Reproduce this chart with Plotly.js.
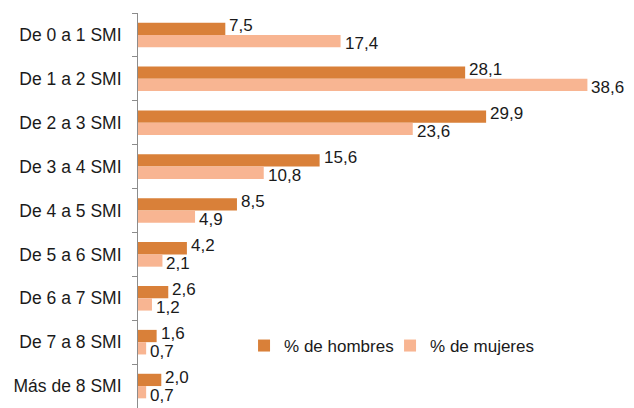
<!DOCTYPE html>
<html>
<head>
<meta charset="utf-8">
<script src="https://cdn.plot.ly/plotly-3.0.1.min.js"></script>
<style>
  body { margin: 0; background: #fff; }
  #chart { width: 634px; height: 408px; }
</style>
</head>
<body>
<div id="chart"></div>
<script>
// Distribución por tramos de salario (SMI)
var categories = ['De 0 a 1 SMI', 'De 1 a 2 SMI', 'De 2 a 3 SMI', 'De 3 a 4 SMI', 'De 4 a 5 SMI',
                  'De 5 a 6 SMI', 'De 6 a 7 SMI', 'De 7 a 8 SMI', 'Más de 8 SMI'];
var hombres = [7.5, 28.1, 29.9, 15.6, 8.5, 4.2, 2.6, 1.6, 2.0];
var mujeres = [17.4, 38.6, 23.6, 10.8, 4.9, 2.1, 1.2, 0.7, 0.7];

var fontFamily = 'Liberation Sans, Arial, sans-serif';
var labelFont = { family: fontFamily, size: 17, color: '#1a1a1a' };

var traceHombres = {
    type: 'bar',
    orientation: 'h',
    name: '% de hombres',
    y: categories,
    x: hombres,
    marker: { color: '#D98039' },
    hoverinfo: 'none'
};

var traceMujeres = {
    type: 'bar',
    orientation: 'h',
    name: '% de mujeres',
    y: categories,
    x: mujeres,
    marker: { color: '#F8B592' },
    hoverinfo: 'none'
};

// value labels: men a bit above their bar, women a bit below
function fmt(v) {
    return v.toFixed(1).replace('.', ',');
}
var annotations = [];
categories.forEach(function(cat, i) {
    annotations.push({
        x: hombres[i], y: cat, xref: 'x', yref: 'y',
        text: fmt(hombres[i]), showarrow: false,
        xanchor: 'left', yanchor: 'middle',
        xshift: 2, yshift: 9,
        font: labelFont
    });
    annotations.push({
        x: mujeres[i], y: cat, xref: 'x', yref: 'y',
        text: fmt(mujeres[i]), showarrow: false,
        xanchor: 'left', yanchor: 'middle',
        xshift: 2, yshift: -9,
        font: labelFont
    });
});

var layout = {
    width: 634,
    height: 408,
    margin: { l: 138, r: 14, t: 13, b: 0 },
    paper_bgcolor: '#fff',
    plot_bgcolor: '#fff',
    barmode: 'group',
    bargap: 0.44,
    bargroupgap: 0,
    font: { family: fontFamily, size: 17, color: '#1a1a1a' },
    xaxis: {
        range: [0, 41.4],
        visible: false,
        showgrid: false,
        zeroline: false
    },
    yaxis: {
        autorange: 'reversed',
        showline: true,
        linecolor: '#8c8c8c',
        linewidth: 1,
        ticks: 'outside',
        tickson: 'boundaries',
        ticklen: 5,
        tickcolor: '#8c8c8c',
        ticklabelstandoff: 12,
        showgrid: false,
        tickfont: { family: fontFamily, size: 17.5, color: '#1a1a1a' }
    },
    annotations: annotations,
    showlegend: true,
    legend: {
        orientation: 'h',
        x: 0.22,
        xanchor: 'left',
        y: 0.157,
        yanchor: 'middle',
        entrywidth: 101,
        entrywidthmode: 'pixels',
        font: { family: fontFamily, size: 17, color: '#1a1a1a' },
        bgcolor: 'rgba(0,0,0,0)'
    }
};

Plotly.newPlot('chart', [traceHombres, traceMujeres], layout, { displayModeBar: false, staticPlot: true });
</script>
</body>
</html>
